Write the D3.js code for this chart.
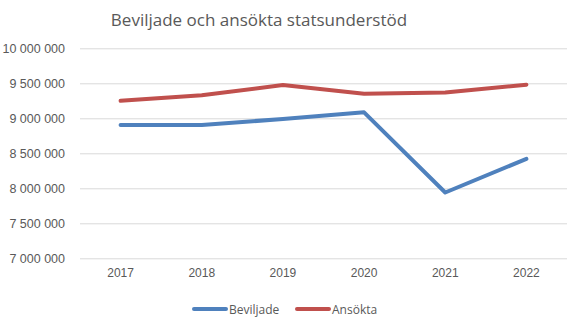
<!DOCTYPE html>
<html><head><meta charset="utf-8">
<script src="https://cdn.jsdelivr.net/npm/d3@7"></script>
<style>body{margin:0;background:#fff}svg{display:block;font-family:"Open Sans",sans-serif}</style>
</head><body>
<svg id="c" width="579" height="327"></svg>
<script>
const years = ["2017","2018","2019","2020","2021","2022"];
const beviljade = [8905000, 8905000, 8990000, 9085000, 7940000, 8420000];
const ansokta = [9250000, 9330000, 9475000, 9350000, 9370000, 9480000];
const yTicks = [7000000,7500000,8000000,8500000,9000000,9500000,10000000];
const seriesNames = ["Beviljade","Ansökta"];
const colors = ["#4F81BD","#C0504D"];

const svg = d3.select("#c");
const m = {l:80, r:12};
const W = 579;
const x = d3.scaleBand().domain(years).range([m.l, W - m.r]);
const y = d3.scaleLinear().domain([7000000,10000000]).range([258.3, 48.3]);
const fmt = v => d3.format(",")(v).replace(/,/g," ");

svg.append("text").attr("x",259).attr("y",26).attr("text-anchor","middle")
  .attr("font-size",17).attr("fill","#595959").text("Beviljade och ansökta statsunderstöd");

const ga = svg.append("g").attr("transform",`translate(${m.l},0)`)
  .call(d3.axisLeft(y).tickValues(yTicks).tickSize(-(W-m.r-m.l)).tickPadding(15).tickFormat(fmt));
ga.select(".domain").remove();
ga.selectAll(".tick line").attr("stroke","#d9d9d9").attr("stroke-width",1);
ga.selectAll(".tick text").attr("fill","#595959").attr("font-size",12.5).attr("font-family","'Liberation Sans',Arial,sans-serif");

const gx = svg.append("g").attr("transform",`translate(0,258.3)`)
  .call(d3.axisBottom(x).tickSize(0).tickPadding(10));
gx.select(".domain").remove();
gx.selectAll(".tick text").attr("fill","#595959").attr("font-size",12);

const line = d3.line().x((d,i)=>x(years[i])+x.bandwidth()/2).y(d=>y(d));
[beviljade, ansokta].forEach((s,i)=>{
  svg.append("path").attr("d",line(s)).attr("fill","none").attr("stroke",colors[i])
    .attr("stroke-width",4).attr("stroke-linejoin","round").attr("stroke-linecap","round");
});

const legendX = [194, 297];
seriesNames.forEach((n,i)=>{
  const lx = legendX[i];
  svg.append("line").attr("x1",lx).attr("x2",lx+32).attr("y1",309).attr("y2",309)
    .attr("stroke",colors[i]).attr("stroke-width",4).attr("stroke-linecap","round");
  svg.append("text").attr("x",lx+35).attr("y",313.5).attr("font-size",12).attr("fill","#595959").text(n);
});
</script>
</body></html>
